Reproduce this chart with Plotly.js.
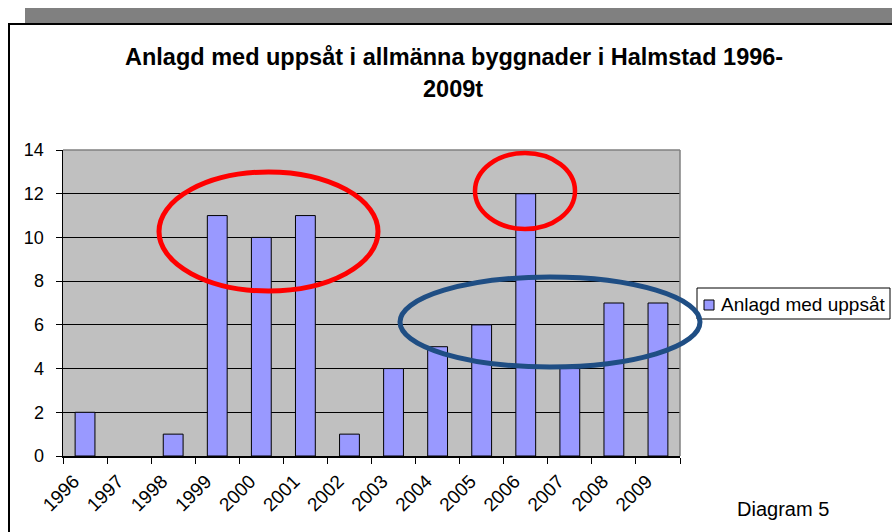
<!DOCTYPE html>
<html>
<head>
<meta charset="utf-8">
<script src="https://cdn.plot.ly/plotly-3.0.1.min.js"></script>
<style>
  body { margin: 0; background: #fff; }
  #chart { width: 892px; height: 532px; }
</style>
</head>
<body>
<div id="chart"></div>
<script>
let years = ['1996', '1997', '1998', '1999', '2000', '2001', '2002', '2003', '2004', '2005', '2006', '2007', '2008', '2009']
let counts = [2, 0, 1, 11, 10, 11, 1, 4, 5, 6, 12, 4, 7, 7]
let seriesName = 'Anlagd med uppsåt'
let titleLines = ['Anlagd med uppsåt i allmänna byggnader i Halmstad 1996-', '2009t']
let yTicks = [0, 2, 4, 6, 8, 10, 12, 14]

// plot area in pixels: left 63, right 680, top 150, bottom 456
let L = 63, R = 680, T = 150, B = 456
function px (x) { return (x - L) / (R - L) }
function py (y) { return (B - y) / (B - T) }

function ellipse (x0, y0, x1, y1, color, w) {
  return {
    type: 'circle', xref: 'paper', yref: 'paper',
    x0: px(x0), x1: px(x1), y0: py(y1), y1: py(y0),
    line: {color: color, width: w}, layer: 'above'
  }
}

let trace1 = {
  x: years,
  y: counts,
  type: 'bar',
  name: seriesName,
  marker: {
    color: '#9999FF',
    // no outline on empty years
    line: {color: '#000000', width: counts.map(function (v) { return v ? 1 : 0 })}
  },
  showlegend: false,
  hoverinfo: 'x+y'
}

let shapes = [
  // frame around the chart
  {type: 'rect', xref: 'paper', yref: 'paper', x0: px(25), x1: px(895), y0: py(24), y1: py(8),
    fillcolor: '#808080', line: {width: 0}, layer: 'below'},
  {type: 'line', xref: 'paper', yref: 'paper', x0: px(8), x1: px(895), y0: py(24), y1: py(24),
    line: {color: '#000', width: 2}},
  {type: 'line', xref: 'paper', yref: 'paper', x0: px(9), x1: px(9), y0: py(24), y1: py(540),
    line: {color: '#000', width: 2}},
  // gray plot border top/right
  {type: 'line', xref: 'paper', yref: 'paper', x0: 0, x1: 1, y0: 1, y1: 1,
    line: {color: '#808080', width: 1.5}},
  {type: 'line', xref: 'paper', yref: 'paper', x0: 1, x1: 1, y0: 0, y1: 1,
    line: {color: '#808080', width: 1.5}},
  // legend box drawn by hand
  {type: 'rect', xref: 'paper', yref: 'paper', x0: px(697), x1: px(890), y0: py(319), y1: py(288),
    fillcolor: '#fff', line: {color: '#000', width: 1}},
  {type: 'rect', xref: 'paper', yref: 'paper', x0: px(704), x1: px(714), y0: py(310), y1: py(300),
    fillcolor: '#9999FF', line: {color: '#000', width: 1}},
  // hand drawn ellipses
  ellipse(159, 172, 378, 291, '#FF0000', 5),
  ellipse(475, 153, 575, 229, '#FF0000', 4.5),
  ellipse(400, 277, 700, 367, '#1F4E84', 5)
]

let font = 'Arial, "Liberation Sans", sans-serif'

let annotations = [
  {text: '<b>' + titleLines[0] + '</b>', xref: 'paper', yref: 'paper', x: px(454), y: py(57),
    showarrow: false, font: {family: font, size: 23.5, color: '#000'}, xanchor: 'center', yanchor: 'middle'},
  {text: '<b>' + titleLines[1] + '</b>', xref: 'paper', yref: 'paper', x: px(453), y: py(89),
    showarrow: false, font: {family: font, size: 23.5, color: '#000'}, xanchor: 'center', yanchor: 'middle'},
  {text: seriesName, xref: 'paper', yref: 'paper', x: px(719), y: py(304),
    showarrow: false, font: {family: font, size: 19, color: '#000'}, xanchor: 'left', yanchor: 'middle'},
  {text: 'Diagram 5', xref: 'paper', yref: 'paper', x: px(783), y: py(509),
    showarrow: false, font: {family: font, size: 20, color: '#000'}, xanchor: 'center', yanchor: 'middle'}
]

// trailing no-break spaces push the rotated labels a bit left, like Excel does
let yearLabels = years.map(function (y) { return y + '\u00a0\u00a0\u00a0' })

let layout = {
  width: 892,
  height: 532,
  autosize: false,
  margin: {l: L, r: 892 - R, t: T, b: 532 - B, pad: 0},
  paper_bgcolor: '#ffffff',
  plot_bgcolor: '#C0C0C0',
  font: {family: font, size: 18, color: '#000'},
  bargap: 0.55,
  showlegend: false,
  xaxis: {
    type: 'category',
    tickmode: 'array',
    tickvals: years,
    ticktext: yearLabels,
    tickangle: -45,
    tickson: 'boundaries',
    ticks: 'outside',
    ticklen: 6,
    tickcolor: '#000',
    showline: true,
    linecolor: '#000',
    linewidth: 1.5,
    showgrid: false,
    ticklabelstandoff: -6,
    tickfont: {family: font, size: 19, color: '#000'}
  },
  yaxis: {
    range: [0, 14],
    tickvals: yTicks,
    ticks: 'outside',
    ticklen: 6,
    tickcolor: '#000',
    showline: true,
    linecolor: '#000',
    linewidth: 1.5,
    showgrid: true,
    gridcolor: '#000',
    gridwidth: 1,
    zeroline: false,
    ticklabelstandoff: 8,
    tickfont: {family: font, size: 18, color: '#000'}
  },
  shapes: shapes,
  annotations: annotations
}

Plotly.newPlot('chart', [trace1], layout, {displayModeBar: false, staticPlot: true})
</script>
</body>
</html>
